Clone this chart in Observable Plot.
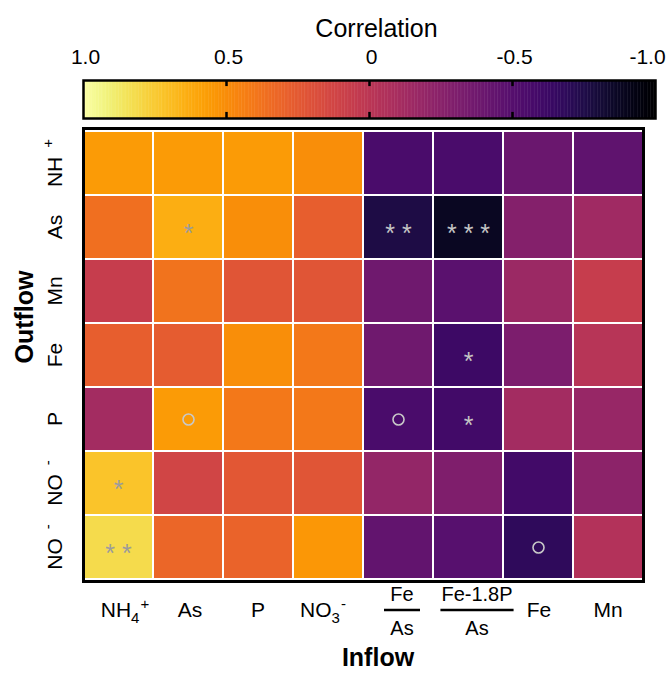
<!DOCTYPE html>
<html><head><meta charset="utf-8">
<script src="https://cdn.jsdelivr.net/npm/d3@7"></script>
<script src="https://cdn.jsdelivr.net/npm/@observablehq/plot@0.6"></script>
<style>
body{margin:0;background:#fff;}
#wrap{position:relative;width:670px;height:675px;font-family:"Liberation Sans",Arial,Helvetica,sans-serif;}
#wrap svg{position:absolute;left:0;top:0;overflow:visible;}
</style></head><body><div id="wrap"></div>
<script>
// ---- data ----
const inflow = ["NH4+", "As", "P", "NO3-", "Fe/As", "Fe-1.8P/As", "Fe", "Mn"];
const outflow = ["NH4+", "As", "Mn", "Fe", "P", "NO2-", "NO3-"];
const rNH4 = [0.56, 0.56, 0.56, 0.50, -0.56, -0.56, -0.40, -0.46];
const rAs  = [0.36, 0.64, 0.50, 0.28, -0.76, -0.88, -0.28, -0.14];
const rMn  = [0.06, 0.38, 0.22, 0.22, -0.38, -0.48, -0.16, 0.06];
const rFe  = [0.28, 0.26, 0.50, 0.40, -0.38, -0.62, -0.32, -0.02];
const rP   = [-0.12, 0.56, 0.40, 0.40, -0.56, -0.60, -0.12, -0.18];
const rNO2 = [0.72, 0.12, 0.24, 0.22, -0.20, -0.30, -0.60, -0.24];
const rNO3 = [0.82, 0.32, 0.30, 0.54, -0.44, -0.50, -0.68, -0.04];
const rows = [rNH4, rAs, rMn, rFe, rP, rNO2, rNO3];
// significance marks: "*" p<0.05, "**", "***", "o" marginal
const sigOut = ["As", "As", "As", "Fe", "P", "P", "P", "NO2-", "NO3-", "NO3-"];
const sigIn  = ["As", "Fe/As", "Fe-1.8P/As", "Fe-1.8P/As", "As", "Fe/As", "Fe-1.8P/As", "NH4+", "NH4+", "Fe"];
const sigMark = ["*", "**", "***", "*", "o", "o", "*", "*", "**", "o"];
const cbTicks = [1, 0.5, 0, -0.5, -1];
const cbTickLabels = ["1.0", "0.5", "0", "-0.5", "-1.0"];
const cbTitle = "Correlation";
const xTitle = "Inflow";
const yTitle = "Outflow";

// ---- tables ----
const cells = [];
outflow.forEach((o, i) => rows[i].forEach((v, j) => cells.push({out: o, inn: inflow[j], v})));
const sig = sigMark.map((m, i) => ({out: sigOut[i], inn: sigIn[i], m}));
const stars = sig.filter(d => d.m !== "o").map(d => ({...d, t: d.m.split("").join(" ")}));
const valOf = d => rows[outflow.indexOf(d.out)][inflow.indexOf(d.inn)];
const starsLight = stars.filter(d => valOf(d) >= 0);
const starsDark = stars.filter(d => valOf(d) < 0);
const circles = sig.filter(d => d.m === "o");

const FONT = '"Liberation Sans", Arial, Helvetica, sans-serif';
const colorOpts = {type: "linear", scheme: "inferno", domain: [-1, 1]};
const wrap = document.getElementById("wrap");

// ---- heatmap ----
const heat = Plot.plot({
  width: 670, height: 675,
  marginLeft: 83, marginRight: 27, marginTop: 128, marginBottom: 94,
  x: {domain: inflow, padding: 0, axis: null},
  y: {domain: outflow, padding: 0, axis: null},
  color: colorOpts,
  style: {fontFamily: FONT, background: "transparent"},
  marks: [
    Plot.cell(cells, {x: "inn", y: "out", fill: "v", stroke: "white", strokeWidth: 2}),
    Plot.frame({stroke: "black", strokeWidth: 3}),
    Plot.text(starsLight, {x: "inn", y: "out", text: "t", fill: "#9c9c9c", fontSize: 25, dy: 6}),
    Plot.text(starsDark, {x: "inn", y: "out", text: "t", fill: "#c4c4c4", fontSize: 25, dy: 6}),
    Plot.dot(circles, {x: "inn", y: "out", r: 5.5, stroke: "#c8c8c8", strokeWidth: 1.6, fill: "none"})
  ]
});
wrap.appendChild(heat);

// axis labels drawn from the plot's own scales
const xs = heat.scale("x"), ys = heat.scale("y");
const svg = d3.select(heat);
const g = svg.append("g").attr("font-family", FONT).attr("fill", "black");
const xShift = [7, 2, 0, -5, 4, 9, 1, 0];
inflow.forEach((lab, i) => {
  const cx = xs.apply(lab) + xs.bandwidth / 2 + xShift[i];
  if (lab.includes("/")) {
    const [num, den] = lab.split("/");
    const t1 = g.append("text").attr("x", cx).attr("y", 601).attr("text-anchor", "middle").attr("font-size", 20).text(num);
    const t2 = g.append("text").attr("x", cx).attr("y", 635).attr("text-anchor", "middle").attr("font-size", 20).text(den);
    const w = Math.max(t1.node().getComputedTextLength(), t2.node().getComputedTextLength());
    const lw = Math.max(36, w + 2);
    g.append("line").attr("x1", cx - lw / 2).attr("x2", cx + lw / 2).attr("y1", 610).attr("y2", 610)
      .attr("stroke", "black").attr("stroke-width", 2.5);
  } else {
    const t = g.append("text").attr("x", cx).attr("y", 617).attr("text-anchor", "middle").attr("font-size", 21);
    const m = lab.match(/^([A-Z][A-Za-z]*?)(\d)([+-])$/);
    if (m) {
      t.append("tspan").text(m[1]);
      t.append("tspan").attr("font-size", 15).attr("dy", 6).text(m[2]);
      t.append("tspan").attr("font-size", 15).attr("dy", -14).attr("dx", 1).text(m[3]);
    } else t.text(lab);
  }
});
outflow.forEach(lab => {
  const cy = ys.apply(lab) + ys.bandwidth / 2;
  const t = g.append("text").attr("transform", `translate(62,${cy}) rotate(-90)`)
    .attr("text-anchor", "middle").attr("font-size", 21);
  const m = lab.match(/^([A-Z][A-Za-z]*?)(\d)([+-])$/);
  if (m) {
    t.append("tspan").text(m[1]);
    t.append("tspan").attr("font-size", 15).attr("dx", 9).attr("dy", -9).text(m[3]);
  } else t.text(lab);
});
g.append("text").attr("x", 378).attr("y", 666).attr("text-anchor", "middle")
  .attr("font-size", 25).attr("font-weight", "bold").text(xTitle);
g.append("text").attr("transform", "translate(33,317) rotate(-90)").attr("text-anchor", "middle")
  .attr("font-size", 25).attr("font-weight", "bold").text(yTitle);

// ---- colour bar ----
const grad = d3.range(-1, 1, 0.005);
const bar = Plot.plot({
  width: 670, height: 125,
  marginLeft: 83, marginRight: 15, marginTop: 80, marginBottom: 7,
  x: {domain: [1, -1], axis: null},
  y: {domain: [0, 1], axis: null},
  color: colorOpts,
  style: {fontFamily: FONT, background: "transparent", overflow: "visible"},
  marks: [
    Plot.rect(grad, {x1: d => d, x2: d => d + 0.0065, y1: 0, y2: 1, fill: d => d + 0.0025}),
    Plot.ruleX(cbTicks.slice(1, -1), {x: d => d, y1: 0, y2: 0.16, stroke: "black", strokeWidth: 2.5}),
    Plot.ruleX(cbTicks.slice(1, -1), {x: d => d, y1: 0.84, y2: 1, stroke: "black", strokeWidth: 2.5}),
    Plot.frame({stroke: "black", strokeWidth: 2.5}),
    Plot.text(cbTicks.slice(0, 4), {x: d => d, text: (d, i) => cbTickLabels[i], frameAnchor: "top", dy: -31, dx: 2, fontSize: 21, fill: "black"}),
    Plot.text(cbTicks.slice(4), {x: d => d, text: () => cbTickLabels[4], frameAnchor: "top", dy: -31, dx: -8, fontSize: 21, fill: "black"}),
    Plot.text([cbTitle], {text: d => d, frameAnchor: "top", dy: -61, dx: 7, fontSize: 25, fill: "black"})
  ]
});
wrap.appendChild(bar);
</script></body></html>
